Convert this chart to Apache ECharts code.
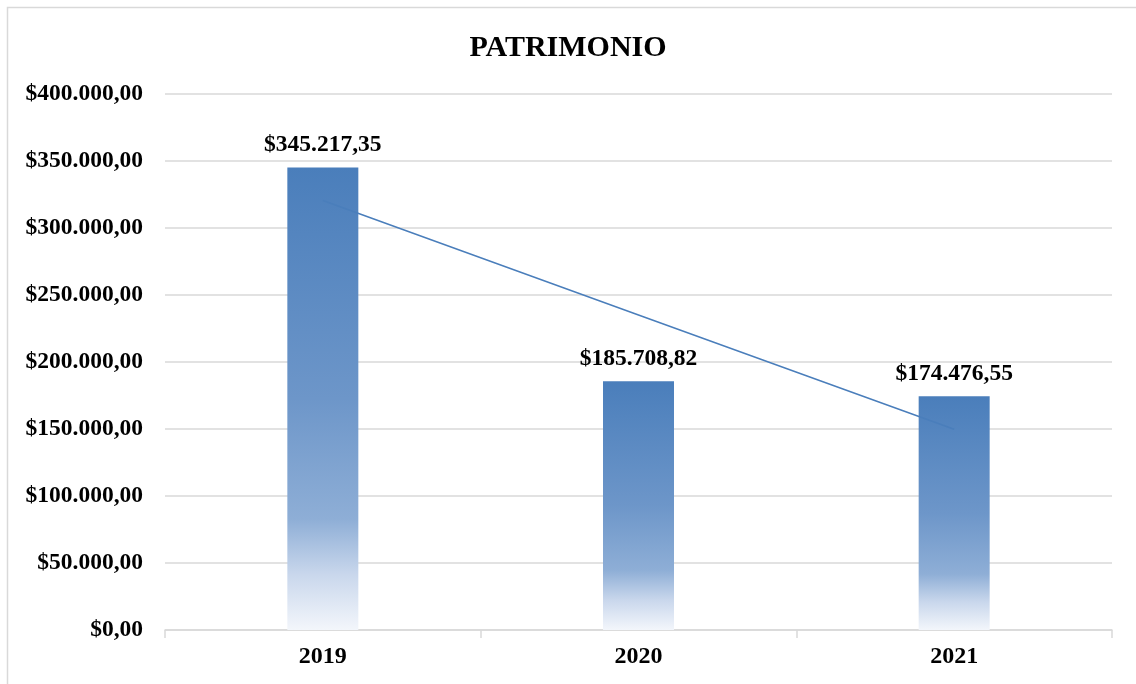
<!DOCTYPE html>
<html>
<head>
<meta charset="utf-8">
<script src="https://cdn.jsdelivr.net/npm/echarts@6/dist/echarts.min.js"></script>
<style>
  html, body { margin: 0; padding: 0; background: #fff; }
  #chart { width: 1136px; height: 684px; }
</style>
</head>
<body>
<div id="chart"></div>
<script>
// datos
const years = ['2019', '2020', '2021']
const patrimonio = [345217.35, 185708.82, 174476.55]
const tendencia = [320500, 235100, 149800]
const yTicks = [0, 50000, 100000, 150000, 200000, 250000, 300000, 350000, 400000]

const serif = '"Liberation Serif", "Times New Roman", serif'

// formato $345.217,35
const money = (v) => {
  const [ent, dec] = Number(v).toFixed(2).split('.')
  return '$' + ent.replace(/\B(?=(\d{3})+(?!\d))/g, '.') + ',' + dec
}

const chart = echarts.init(document.getElementById('chart'))

chart.setOption({
  backgroundColor: '#fff',
  animation: false,
  graphic: [{
    type: 'rect',
    shape: {x: 7.5, y: 7.5, width: 1140, height: 700},
    style: {fill: 'none', stroke: '#d9d9d9', lineWidth: 1.5},
    silent: true
  }],
  title: {
    text: 'PATRIMONIO',
    left: 'center',
    top: 28,
    textStyle: {fontFamily: serif, fontWeight: 'bold', fontSize: 30, color: '#000', letterSpacing: 1}
  },
  grid: {left: 165, right: 24, top: 94, bottom: 54, containLabel: false},
  xAxis: {
    type: 'category',
    data: years,
    boundaryGap: true,
    axisLine: {lineStyle: {color: '#d9d9d9', width: 1.5}},
    axisTick: {show: true, length: 8, lineStyle: {color: '#d9d9d9', width: 1.5}},
    axisLabel: {fontFamily: serif, fontWeight: 'bold', fontSize: 24, color: '#000', margin: 15}
  },
  yAxis: {
    type: 'value',
    min: yTicks[0],
    max: yTicks[yTicks.length - 1],
    interval: yTicks[1] - yTicks[0],
    axisLine: {show: false},
    axisTick: {show: false},
    splitLine: {lineStyle: {color: '#d9d9d9', width: 1.5}},
    axisLabel: {
      fontFamily: serif, fontWeight: 'bold', fontSize: 23.5, color: '#000', margin: 22,
      formatter: (v) => money(v)
    }
  },
  series: [
    {
      name: 'Patrimonio',
      type: 'bar',
      data: patrimonio,
      barWidth: 71,
      itemStyle: {
        color: new echarts.graphic.LinearGradient(0, 0, 0, 1, [
          {offset: 0, color: '#4a7ebb'},
          {offset: 0.5, color: '#6d96c9'},
          {offset: 0.76, color: '#8eaed6'},
          {offset: 0.88, color: '#c9d7ec'},
          {offset: 1, color: '#f3f6fb'}
        ])
      },
      label: {
        show: true,
        position: 'top',
        distance: 10,
        fontFamily: serif, fontWeight: 'bold', fontSize: 23.5, color: '#000',
        formatter: (p) => money(p.value)
      },
      z: 2
    },
    {
      name: 'Tendencia',
      type: 'line',
      data: tendencia,
      symbol: 'none',
      lineStyle: {color: '#4a7ebb', width: 1.5},
      z: 3
    }
  ]
})
</script>
</body>
</html>
